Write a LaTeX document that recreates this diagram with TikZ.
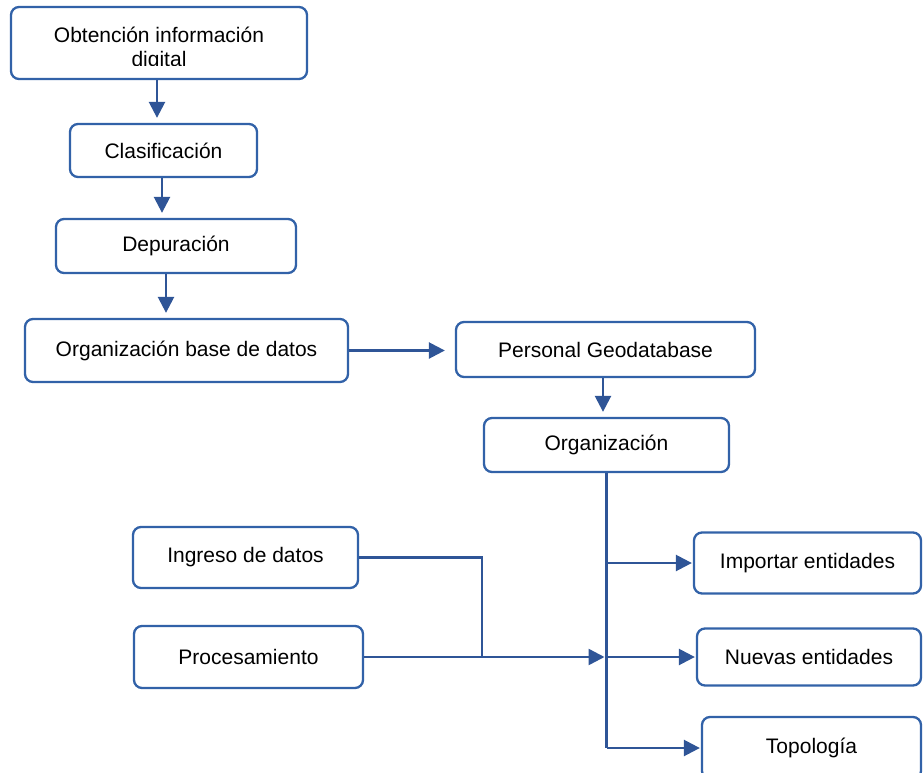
\documentclass[tikz,border=0pt]{standalone}
\usepackage{fontspec}
\setmainfont{Liberation Sans}
\usetikzlibrary{arrows.meta,calc}
\definecolor{boxc}{RGB}{50,98,168}
\definecolor{linec}{RGB}{47,85,151}
\begin{document}
\begin{tikzpicture}[x=1pt,y=-1pt,
  box/.style={draw=boxc, line width=2.3pt, rounded corners=8pt, inner sep=0pt,
    font=\fontsize{21}{24}\selectfont, text=black, align=center},
  txt/.style={inner sep=0pt, font=\fontsize{21}{24}\selectfont, text=black, align=center},
  conn/.style={draw=linec, line width=2.5pt, -{Triangle[length=16pt,width=16pt]}},
  ln/.style={draw=linec, line width=2.5pt}]
\useasboundingbox (0,0) rectangle (923,773);

% boxes
\node[box, minimum width=296pt, minimum height=72pt] (A) at (159,43) {};
\begin{scope}
  \clip (11,7) rectangle (307,66);
  \node[txt] (At) at (159,49) {Obtención información\\digital};
\end{scope}
\node[box, minimum width=187pt, minimum height=53pt] (B) at (163.5,150.5) {Clasificación};
\node[box, minimum width=240pt, minimum height=54pt] (C) at (176,246) {Depuración};
\node[box, minimum width=323pt, minimum height=63pt] (D) at (186.5,350.5) {Organización base de datos};
\node[box, minimum width=299pt, minimum height=55pt] (E) at (605.5,349.5) {Personal Geodatabase};
\node[box, minimum width=245pt, minimum height=54pt] (F) at (606.5,445) {Organización};
\node[box, minimum width=225pt, minimum height=61pt] (G) at (245.5,557.5) {Ingreso de datos};
\node[box, minimum width=229pt, minimum height=62pt] (H) at (248.5,657) {Procesamiento};
\node[box, minimum width=227pt, minimum height=61pt] (I) at (807.5,563) {Importar entidades};
\node[box, minimum width=224pt, minimum height=57pt] (J) at (809,657) {Nuevas entidades};
\node[box, minimum width=219pt, minimum height=62pt] (K) at (811.5,748) {Topología};

% vertical chain
\draw[conn, shorten >=5pt] ([xshift=-2pt]A.south) -- ([xshift=-2pt]A.south |- B.north);
\draw[conn, shorten >=5pt] ([xshift=-1.5pt]B.south) -- ([xshift=-1.5pt]B.south |- C.north);
\draw[conn, shorten >=5pt] ([xshift=-10pt]C.south) -- ([xshift=-10pt]C.south |- D.north);
\draw[conn, shorten >=10pt] (D.east) -- (D.east -| E.west);
\draw[conn, shorten >=5pt] ([xshift=-2.5pt]E.south) -- ([xshift=-2.5pt]E.south |- F.north);

% trunk from Organización
\coordinate (tb) at (F.south |- K.west);
\draw[ln] (F.south) -- (tb);
\draw[conn, shorten >=1pt] (F.south |- I.west) -- (I.west);
\draw[conn, shorten >=1pt] (F.south |- J.west) -- (J.west);
\draw[conn, shorten >=1pt] (tb) -- (K.west);

% inputs
\coordinate (m) at ($(H.east)+(118,0)$);
\draw[ln] (G.east) -| (m);
\draw[conn, shorten >=2pt] (H.east) -- (H.east -| F.south);
\end{tikzpicture}
\end{document}
